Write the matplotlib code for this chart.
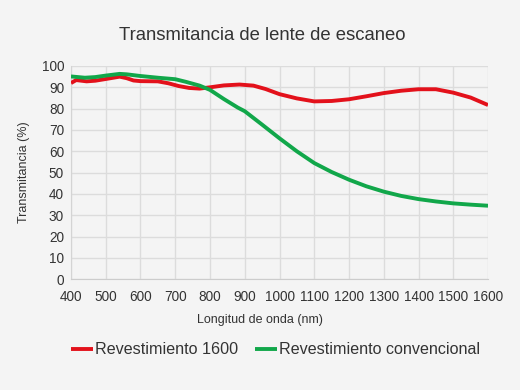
import matplotlib
matplotlib.use('Agg')
import matplotlib.pyplot as plt

plt.rcParams['font.family'] = ['Liberation Sans', 'DejaVu Sans']

# Revestimiento 1600: wavelength (nm) and transmittance (%)
wl_red = [400, 415, 445, 470, 500, 540, 560, 580, 600, 650, 680, 710, 740,
          770, 800, 840, 885, 925, 960, 1000, 1050, 1100, 1150, 1200, 1250,
          1300, 1350, 1400, 1450, 1500, 1550, 1600]
red = [92, 93.4, 92.8, 93.1, 93.9, 95, 94.3, 93.2, 92.9, 92.8, 91.9, 90.6,
       89.7, 89.4, 90, 90.9, 91.3, 90.8, 89.2, 86.8, 84.8, 83.4, 83.6, 84.4,
       85.8, 87.3, 88.4, 89.1, 89.1, 87.5, 85.2, 81.7]

# Revestimiento convencional
wl_green = [400, 440, 470, 500, 540, 560, 600, 650, 700, 730, 770, 800, 840,
            880, 900, 950, 1000, 1050, 1100, 1150, 1200, 1250, 1300, 1350,
            1400, 1450, 1500, 1550, 1600]
green = [95.1, 94.5, 94.8, 95.5, 96.3, 96.1, 95.3, 94.5, 93.8, 92.6, 90.8,
         88.8, 84.5, 80.5, 78.8, 72.5, 66.1, 60, 54.5, 50.3, 46.7, 43.6, 41.1,
         39.1, 37.6, 36.5, 35.6, 35, 34.5]

bg = '#f4f4f4'
txt = '#333333'

fig = plt.figure(figsize=(5.2, 3.9), dpi=100, facecolor=bg)
ax = fig.add_axes([0.1365, 0.2838, 0.802, 0.5470], facecolor=bg)

ax.plot(wl_red, red, color='#e3111b', lw=2.8, solid_capstyle='butt',
        solid_joinstyle='round', label='Revestimiento 1600', zorder=3)
ax.plot(wl_green, green, color='#11a74a', lw=2.8, solid_capstyle='butt',
        solid_joinstyle='round', label='Revestimiento convencional', zorder=3)

ax.set_xlim(400, 1600)
ax.set_ylim(0, 100)
ax.set_xticks(range(400, 1601, 100))
ax.set_yticks(range(0, 101, 10))
ax.grid(True, color='#dcdcdc', lw=1)
ax.set_axisbelow(True)
for s in ax.spines.values():
    s.set_visible(False)
ax.spines['bottom'].set_visible(True)
ax.spines['bottom'].set_color('#cccccc')
ax.spines['left'].set_visible(True)
ax.spines['left'].set_color('#d4d4d4')
ax.tick_params(length=0, labelsize=9.8, colors=txt)
ax.tick_params(axis='x', pad=8)
ax.tick_params(axis='y', pad=5)

ax.set_xlabel('Longitud de onda (nm)', fontsize=9, color=txt)
ax.xaxis.set_label_coords(0.453, -0.163)
ax.set_ylabel('Transmitancia (%)', fontsize=9, color=txt, labelpad=8)
fig.text(0.504, 0.91, 'Transmitancia de lente de escaneo', ha='center',
         va='center', fontsize=13.3, color=txt)

fig.legend(loc='center', bbox_to_anchor=(0.53, 0.103), ncol=2, frameon=False,
           fontsize=11.6, handlelength=1.35, handletextpad=0.12,
           columnspacing=1.03, labelcolor=txt)

fig.savefig('out.png', dpi=100, facecolor=bg)
